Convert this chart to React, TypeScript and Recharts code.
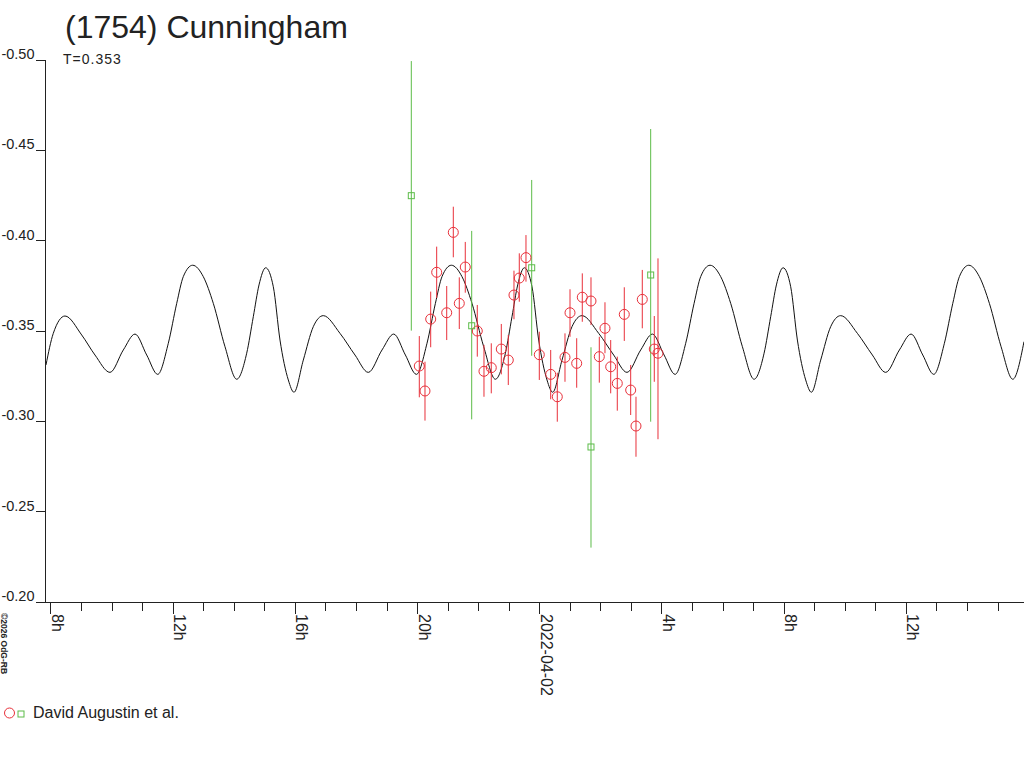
import React from 'react';
import { ComposedChart, Line, Scatter, XAxis, YAxis, ErrorBar } from 'recharts';

const FONT = '"Liberation Sans", Arial, Helvetica, sans-serif';
const INK = '#222222';
const RED = '#e8303a';
const GREEN = '#5cbc48';
const CURVE = '#111111';

// Fitted lightcurve (hours since 2022-04-01 00:00 UT, relative magnitude)
const curveHours = [
  7.836, 8.075, 8.458, 9.005, 9.44, 9.931,
  10.367, 10.75, 11.133, 11.493, 11.84, 12.115, 12.331, 12.638, 12.985, 13.313, 13.696, 14.079, 14.406,
  14.622, 14.809, 15.028, 15.277, 15.496, 15.768, 15.954, 16.259, 16.586, 16.913, 17.46, 17.951, 18.386,
  18.835, 19.218, 19.601, 19.961, 20.308, 20.583, 20.799, 21.106, 21.453, 21.781, 22.164, 22.547, 22.874,
  23.09, 23.277, 23.496, 23.745, 23.964, 24.236, 24.422, 24.727, 25.054, 25.381, 25.928, 26.419, 26.854,
  27.303, 27.686, 28.069, 28.429, 28.776, 29.051, 29.267, 29.574, 29.921, 30.249, 30.632, 31.015, 31.342,
  31.558, 31.745, 31.964, 32.213, 32.432, 32.704, 32.89, 33.195, 33.522, 33.849, 34.396, 34.887, 35.322,
  35.771, 36.154, 36.537, 36.897, 37.244, 37.519, 37.735, 38.042, 38.389, 38.717, 39.1, 39.483, 39.85,
];
const curveMags = [
  -0.3312, -0.3487, -0.3583, -0.3478, -0.3367, -0.3271,
  -0.3395, -0.3483, -0.3367, -0.326, -0.3432, -0.3653, -0.3801, -0.3864, -0.3801, -0.3653, -0.3413, -0.3233, -0.3377,
  -0.3579, -0.3755, -0.385, -0.3745, -0.345, -0.3229, -0.3161, -0.3339, -0.3524, -0.3585, -0.3487, -0.3367, -0.3271,
  -0.3395, -0.3483, -0.3367, -0.326, -0.3432, -0.3653, -0.3801, -0.3864, -0.3801, -0.3653, -0.3413, -0.3233, -0.3377,
  -0.3579, -0.3755, -0.385, -0.3745, -0.345, -0.3229, -0.3161, -0.3339, -0.3524, -0.3585, -0.3487, -0.3367, -0.3271,
  -0.3395, -0.3483, -0.3367, -0.326, -0.3432, -0.3653, -0.3801, -0.3864, -0.3801, -0.3653, -0.3413, -0.3233, -0.3377,
  -0.3579, -0.3755, -0.385, -0.3745, -0.345, -0.3229, -0.3161, -0.3339, -0.3524, -0.3585, -0.3487, -0.3367, -0.3271,
  -0.3395, -0.3483, -0.3367, -0.326, -0.3432, -0.3653, -0.3801, -0.3864, -0.3801, -0.3653, -0.3413, -0.3233, -0.3441,
];

// Observations, session 1 (red circles)
const redHours = [
  20.056, 20.242, 20.429, 20.625, 20.953, 21.169, 21.365, 21.561, 21.954, 22.173, 22.412, 22.74,
  22.969, 23.155, 23.329, 23.548, 23.984, 24.357, 24.573, 24.825, 24.989, 25.208, 25.391, 25.676,
  25.948, 26.134, 26.321, 26.537, 26.766, 26.975, 27.149, 27.355, 27.748, 27.869,
];
const redMags = [
  -0.3306, -0.3168, -0.3566, -0.3825, -0.3601, -0.4046, -0.3653, -0.3854, -0.35, -0.3277, -0.3297, -0.34,
  -0.3339, -0.3699, -0.3793, -0.3906, -0.3369, -0.326, -0.3136, -0.3354, -0.3601, -0.3321, -0.3687, -0.3666,
  -0.3358, -0.3515, -0.3302, -0.321, -0.3592, -0.3173, -0.2974, -0.3675, -0.34, -0.3377,
];
const redBarBright = [
  -0.3472, -0.333, -0.3718, -0.3967, -0.3749, -0.4188, -0.3797, -0.3993, -0.3644, -0.3423, -0.3432, -0.3539,
  -0.3478, -0.3834, -0.393, -0.4031, -0.3496, -0.3395, -0.3269, -0.3487, -0.3731, -0.346, -0.3819, -0.3797,
  -0.3468, -0.3659, -0.345, -0.3358, -0.3742, -0.3312, -0.3136, -0.3838, -0.3583, -0.3902,
];
const redBarFaint = [
  -0.3133, -0.3004, -0.341, -0.3683, -0.345, -0.3908, -0.3511, -0.3712, -0.3358, -0.3136, -0.3155, -0.326,
  -0.3201, -0.3565, -0.3662, -0.3773, -0.3229, -0.3122, -0.2998, -0.3219, -0.3468, -0.3186, -0.3551, -0.3533,
  -0.3214, -0.3377, -0.3155, -0.3059, -0.3445, -0.3035, -0.2804, -0.3515, -0.3219, -0.2901,
];

// Observations, session 2 (green squares)
const greenHours = [19.794, 21.771, 23.735, 25.676, 27.63];
const greenMags = [-0.4249, -0.3529, -0.385, -0.2858, -0.381];
const greenBarBright = [-0.4994, -0.4054, -0.4336, -0.341, -0.4618];
const greenBarFaint = [-0.3502, -0.3011, -0.3363, -0.2301, -0.2998];

const xTicks = [8, 9, 10, 11, 12, 13, 14, 15, 16, 17, 18, 19, 20, 21, 22, 23, 24, 25, 26, 27, 28, 29, 30, 31, 32, 33, 34, 35, 36, 37, 38, 39];
const xLabelHours = [8, 12, 16, 20, 24, 28, 32, 36];
const xLabelTexts = ['8h', '12h', '16h', '20h', '2022-04-02', '4h', '8h', '12h'];
const yTicks = [-0.5, -0.45, -0.4, -0.35, -0.3, -0.25, -0.2];
const yTickLabels = ['-0.50', '-0.45', '-0.40', '-0.35', '-0.30', '-0.25', '-0.20'];

const titleText = '(1754) Cunningham';
const subtitleText = 'T=0.353';
const legendText = 'David Augustin et al.';
const copyrightText = '\u00A92026 OdG-RB';

const curveData = curveHours.map((h, i) => ({ h, v: curveMags[i] }));
const redData = redHours.map((h, i) => ({
  h,
  v: redMags[i],
  err: [redMags[i] - redBarBright[i], redBarFaint[i] - redMags[i]],
}));
const greenData = greenHours.map((h, i) => ({
  h,
  v: greenMags[i],
  err: [greenMags[i] - greenBarBright[i], greenBarFaint[i] - greenMags[i]],
}));

const YTick = (props: any) => {
  const { x, y, payload } = props;
  const idx = yTicks.findIndex((t) => Math.abs(t - payload.value) < 1e-9);
  return (
    <g>
      <line x1={x - 10} x2={x} y1={y} y2={y} stroke={INK} strokeWidth={1} shapeRendering="crispEdges" />
      <text x={x - 11} y={y - 1} textAnchor="end" fontSize={14.5} fill={INK} fontFamily={FONT}>
        {idx >= 0 ? yTickLabels[idx] : ''}
      </text>
    </g>
  );
};

const XTick = (props: any) => {
  const { x, y, payload } = props;
  const idx = xLabelHours.indexOf(payload.value);
  const major = idx >= 0;
  return (
    <g>
      <line x1={x} x2={x} y1={y} y2={y + (major ? 12 : 9)} stroke={INK} strokeWidth={1} shapeRendering="crispEdges" />
      {major && (
        <text
          transform={`translate(${x + 1},${y + 12}) rotate(90)`}
          fontSize={16}
          fill={INK}
          fontFamily={FONT}
          textAnchor="start"
        >
          {xLabelTexts[idx]}
        </text>
      )}
    </g>
  );
};

const RedCircle = (p: any) => (
  <circle cx={p.cx} cy={p.cy} r={5} fill="none" stroke={RED} strokeWidth={1} />
);
const GreenSquare = (p: any) => (
  <rect x={p.cx - 3} y={p.cy - 3} width={6} height={6} fill="none" stroke={GREEN} strokeWidth={1} />
);

export default function App() {
  return (
    <div style={{ position: 'absolute', left: 0, top: 0, width: 1024, height: 768, background: '#ffffff', overflow: 'hidden' }}>
      <ComposedChart
        width={1024}
        height={768}
        margin={{ top: 60, right: 0, bottom: 0, left: 0 }}
        style={{ position: 'absolute', left: 0, top: 0 }}
      >
        <XAxis
          type="number"
          dataKey="h"
          domain={[7.82, 39.85]}
          ticks={xTicks}
          interval={0}
          allowDataOverflow
          height={166}
          tickSize={0}
          tickMargin={0}
          tickLine={false}
          tick={<XTick />}
          axisLine={{ stroke: INK, strokeWidth: 1, shapeRendering: 'crispEdges' }}
        />
        <YAxis
          type="number"
          dataKey="v"
          domain={[-0.5, -0.2]}
          reversed
          ticks={yTicks}
          interval={0}
          allowDataOverflow
          width={45.5}
          tickSize={0}
          tickMargin={0}
          tickLine={false}
          tick={<YTick />}
          axisLine={{ stroke: INK, strokeWidth: 1, shapeRendering: 'crispEdges' }}
        />
        <Line
          data={curveData}
          dataKey="v"
          type="monotone"
          stroke={CURVE}
          strokeWidth={1}
          dot={false}
          activeDot={false}
          isAnimationActive={false}
        />
        <Scatter data={redData} dataKey="v" shape={<RedCircle />} isAnimationActive={false}>
          <ErrorBar dataKey="err" direction="y" width={0} stroke={RED} strokeWidth={1} />
        </Scatter>
        <Scatter data={greenData} dataKey="v" shape={<GreenSquare />} isAnimationActive={false}>
          <ErrorBar dataKey="err" direction="y" width={0} stroke={GREEN} strokeWidth={1} />
        </Scatter>
      </ComposedChart>
      <svg width={1024} height={768} style={{ position: 'absolute', left: 0, top: 0, pointerEvents: 'none' }}>
        <text x={65} y={38} fontSize={32} fill={INK} fontFamily={FONT}>{titleText}</text>
        <text x={63} y={64} fontSize={14} fill={INK} fontFamily={FONT} letterSpacing={1}>{subtitleText}</text>
        <text transform="translate(1,613) rotate(90)" fontSize={8.5} fontWeight="bold" fill={INK} fontFamily={FONT}>
          {copyrightText}
        </text>
        <circle cx={9.5} cy={713} r={5} fill="none" stroke={RED} strokeWidth={1} />
        <rect x={18} y={711} width={6} height={6} fill="none" stroke={GREEN} strokeWidth={1} />
        <text x={33} y={718} fontSize={16} fill={INK} fontFamily={FONT}>{legendText}</text>
      </svg>
    </div>
  );
}
